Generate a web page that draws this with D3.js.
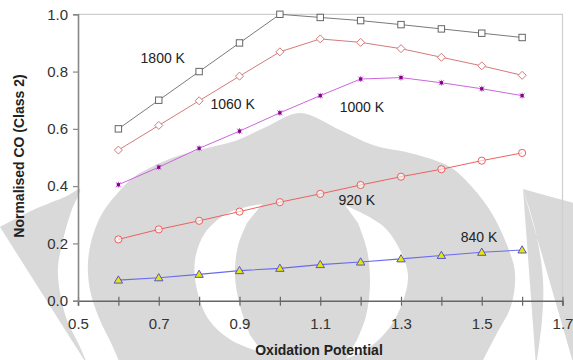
<!DOCTYPE html>
<html>
<head>
<meta charset="utf-8">
<script src="https://cdn.jsdelivr.net/npm/d3@7"></script>
<style>
  html, body { margin: 0; padding: 0; background: #fff; }
  svg { display: block; }
  text { font-family: "Liberation Sans", Arial, sans-serif; }
</style>
</head>
<body>
<svg id="chart" width="573" height="360"></svg>
<script>
// Oxidation potential values (x) shared by every series
const oxidation = [0.6, 0.7, 0.8, 0.9, 1.0, 1.1, 1.2, 1.3, 1.4, 1.5, 1.6];

// Normalised CO (Class 2) for each temperature
const co1800 = [0.600, 0.700, 0.800, 0.900, 1.000, 0.989, 0.978, 0.964, 0.949, 0.934, 0.919];
const co1060 = [0.526, 0.612, 0.698, 0.784, 0.869, 0.914, 0.902, 0.880, 0.850, 0.820, 0.787];
const co1000 = [0.405, 0.466, 0.532, 0.592, 0.656, 0.716, 0.774, 0.779, 0.761, 0.740, 0.716];
const co920  = [0.214, 0.249, 0.279, 0.311, 0.344, 0.373, 0.404, 0.433, 0.459, 0.489, 0.516];
const co840  = [0.072, 0.080, 0.092, 0.105, 0.113, 0.126, 0.135, 0.146, 0.158, 0.169, 0.177];

// Series names and the point each label sits at (data units)
const seriesNames = ["1800 K", "1060 K", "1000 K", "920 K", "840 K"];
const labelX = [0.655, 0.828, 1.148, 1.145, 1.448];
const labelY = [0.83, 0.67, 0.66, 0.334, 0.205];

// Axis ticks
const xTicks = [0.5, 0.6, 0.7, 0.8, 0.9, 1.0, 1.1, 1.2, 1.3, 1.4, 1.5, 1.6, 1.7];
const xTickLabels = ["0.5", "", "0.7", "", "0.9", "", "1.1", "", "1.3", "", "1.5", "", "1.7"];
const yTicks = [0, 0.2, 0.4, 0.6, 0.8, 1.0];
const yTickLabels = ["0.0", "0.2", "0.4", "0.6", "0.8", "1.0"];

const svg = d3.select("#chart");
const W = 573, H = 360;
const margin = { left: 78, right: 10.5, top: 14.3, bottom: 59.3 };

const x = d3.scaleLinear().domain([0.5, 1.7]).range([margin.left, W - margin.right]);
const y = d3.scaleLinear().domain([0, 1]).range([H - margin.bottom, margin.top]);

// ---- Background emblem (light grey watermark) ----
const bg = svg.append("g").attr("class", "emblem");
const smooth = d3.line().curve(d3.curveCatmullRom.alpha(0.5));
function shape(outer, inner) {
  let d = smooth(outer);
  if (inner) d += smooth(inner).replace(/^M/, "L");
  return d + "Z";
}
const grey = "#d9d9d9";
// left outer wing
bg.append("path").attr("fill", grey).attr("d",
  shape([[0,227],[33,210],[67,196],[80,189],[71,212],[63,240],[58,267],[60,293],[67,320],[80,347],[88,366]]) + "L0,366Z");
// main dome
bg.append("path").attr("fill", grey).attr("d",
  shape([[121,366],[112,345],[99,318],[90,290],[88,262],[93,235],[103,212],[116,195],[134,177],[172,158],[207,148],[235,141],[266,127],[300,113],
         [340,130],[373,145],[414,154],[450,167],[472,187],[491,212],[507,245],[515,273],[511,306],[497,333],[480,366]]));
// right outer wing
bg.append("path").attr("fill", grey).attr("d",
  shape([[523,189],[536,233],[543,280],[542,320],[536,366]]) + "L574,366L574,203L548,196Z");
// inner crescents (cut out in white)
bg.append("path").attr("fill", "#fff").attr("d",
  shape([[262,204],[228,213],[205,233],[195,260],[197,290],[209,320],[231,340],[263,353]],
        [[250,335],[240,306],[235,276],[238,246],[247,223]]));
bg.append("path").attr("fill", "#fff").attr("d",
  shape([[345,205],[383,226],[400,250],[408,275],[403,301],[390,327],[370,347],[346,359]],
        [[357,340],[366,316],[370,283],[367,250],[358,223]]));

// ---- Frame (light top and right edges) ----
svg.append("path")
  .attr("fill", "none").attr("stroke", "#cfcfcf").attr("stroke-width", 1.2)
  .attr("d", `M${x(0.5)},${y(1)}H${x(1.7)}V${y(0)}`);

// ---- Axes ----
const xAxis = d3.axisBottom(x).tickValues(xTicks)
  .tickFormat((d, i) => xTickLabels[i]).tickSize(5).tickPadding(13);
const gx = svg.append("g").attr("transform", `translate(0,${y(0)})`).call(xAxis);
gx.select(".domain").attr("stroke", "#666").attr("stroke-width", 1.6);
gx.selectAll(".tick line").attr("stroke", "#666").attr("stroke-width", 1.2).attr("y1", -4).attr("y2", 5);
gx.selectAll(".tick text").attr("fill", "#333").attr("font-size", 15)
  .attr("font-family", "Liberation Sans, Arial, sans-serif");

const yAxis = d3.axisLeft(y).tickValues(yTicks)
  .tickFormat((d, i) => yTickLabels[i]).tickSize(5).tickPadding(5);
const gy = svg.append("g").attr("transform", `translate(${x(0.5)},0)`).call(yAxis);
gy.select(".domain").attr("stroke", "#888").attr("stroke-width", 1.6);
gy.selectAll(".tick line").attr("stroke", "#888").attr("stroke-width", 1.2);
gy.selectAll(".tick text").attr("fill", "#333").attr("font-size", 15)
  .attr("font-family", "Liberation Sans, Arial, sans-serif");

// ---- Series ----
const line = d3.line().x(d => x(d[0])).y(d => y(d[1]));
const pairs = vals => oxidation.map((o, i) => [o, vals[i]]);

function drawSeries(vals, color, width, marker) {
  const pts = pairs(vals);
  svg.append("path").datum(pts).attr("fill", "none")
    .attr("stroke", color).attr("stroke-width", width).attr("d", line);
  const g = svg.append("g");
  pts.forEach(p => marker(g, x(p[0]), y(p[1])));
}

// 1800 K: open grey squares
drawSeries(co1800, "#7a7a7a", 1, (g, cx, cy) =>
  g.append("rect").attr("x", cx - 3.2).attr("y", cy - 3.2).attr("width", 6.4).attr("height", 6.4)
    .attr("fill", "#fff").attr("stroke", "#666").attr("stroke-width", 1));
// 1060 K: open pink diamonds
drawSeries(co1060, "#d47a7a", 1, (g, cx, cy) =>
  g.append("path").attr("d", `M${cx},${cy - 4}L${cx + 4},${cy}L${cx},${cy + 4}L${cx - 4},${cy}Z`)
    .attr("fill", "#fff").attr("stroke", "#d47a7a").attr("stroke-width", 1));
// 1000 K: purple star markers
drawSeries(co1000, "#cc66dd", 1, (g, cx, cy) => {
  g.append("path").attr("d", `M${cx - 2.5},${cy - 2.5}L${cx + 2.5},${cy + 2.5}M${cx + 2.5},${cy - 2.5}L${cx - 2.5},${cy + 2.5}M${cx},${cy - 3}V${cy + 3}`)
    .attr("stroke", "#cc66dd").attr("stroke-width", 1);
  g.append("rect").attr("x", cx - 1.6).attr("y", cy - 1.6).attr("width", 3.2).attr("height", 3.2)
    .attr("fill", "#880088");
});
// 920 K: open red circles
drawSeries(co920, "#ee6060", 1, (g, cx, cy) =>
  g.append("circle").attr("cx", cx).attr("cy", cy).attr("r", 3.6)
    .attr("fill", "#fff").attr("fill-opacity", 0.6).attr("stroke", "#ee6060").attr("stroke-width", 1));
// 840 K: yellow triangles on a blue line
drawSeries(co840, "#6a6af0", 1.1, (g, cx, cy) =>
  g.append("path").attr("d", `M${cx},${cy - 4.2}L${cx + 4.2},${cy + 3}L${cx - 4.2},${cy + 3}Z`)
    .attr("fill", "#e6e600").attr("stroke", "#5555cc").attr("stroke-width", 1));

// ---- Series labels ----
seriesNames.forEach((name, i) => {
  svg.append("text").attr("x", x(labelX[i])).attr("y", y(labelY[i]))
    .attr("font-size", 14).attr("fill", "#222").text(name);
});

// ---- Axis titles ----
svg.append("text").attr("x", 319).attr("y", 355).attr("text-anchor", "middle")
  .attr("font-size", 14).attr("font-weight", "bold").attr("fill", "#222")
  .text("Oxidation Potential");
svg.append("text").attr("transform", "translate(24,156) rotate(-90)")
  .attr("text-anchor", "middle")
  .attr("font-size", 14).attr("font-weight", "bold").attr("fill", "#222")
  .text("Normalised CO (Class 2)");
</script>
</body>
</html>
